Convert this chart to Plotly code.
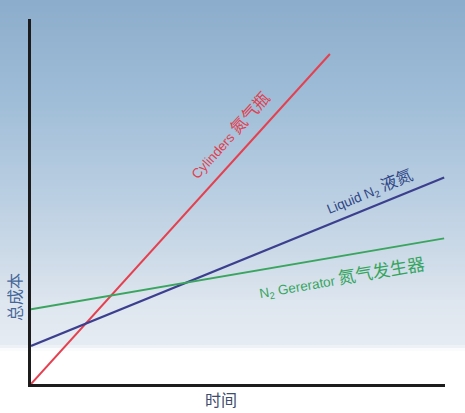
import plotly.graph_objects as go

# time axis 0..100, total cost 0..100 (no ticks shown)
time_pts = [0, 100]
cylinders_x = [0, 72.2]
cylinders_y = [0, 90.4]
liquid_x = [0, 99.8]
liquid_y = [10.4, 56.6]
generator_x = [0, 99.8]
generator_y = [20.5, 39.9]

W, H = 465, 413
ML, MR, MT, MB = 31, 20, 19, 29
PW, PH = W - ML - MR, H - MT - MB


def px_x(x):
    return (x - ML) / PW


def px_y(y):
    return (H - MB - y) / PH


fig = go.Figure()

fig.add_trace(go.Scatter(x=cylinders_x, y=cylinders_y, mode='lines',
                         line=dict(color='#e5404f', width=2)))
fig.add_trace(go.Scatter(x=liquid_x, y=liquid_y, mode='lines',
                         line=dict(color='#3b3f8e', width=2.2)))
fig.add_trace(go.Scatter(x=generator_x, y=generator_y, mode='lines',
                         line=dict(color='#3aa55e', width=2)))

# sky background built from thin strips
stops = [(0, (140, 173, 204)), (100, (160, 190, 216)), (200, (188, 208, 227)),
         (260, (207, 220, 233)), (300, (222, 230, 239)), (343, (230, 236, 243)),
         (349, (255, 255, 255)), (413, (255, 255, 255))]
shapes = []
step = 3
for y in range(0, H, step):
    for (a, ca), (b, cb) in zip(stops[:-1], stops[1:]):
        if a <= y < b:
            t = (y - a) / (b - a)
            c = tuple(int(ca[i] + (cb[i] - ca[i]) * t) for i in range(3))
            break
    shapes.append(dict(type='rect', xref='paper', yref='paper', layer='below',
                       x0=px_x(0), x1=px_x(W), y0=px_y(y + step + 0.5), y1=px_y(y),
                       fillcolor='rgb(%d,%d,%d)' % c, line=dict(width=0)))

fnt = "Arial, 'Liberation Sans', 'Noto Sans CJK SC'"
annotations = [
    dict(x=px_x(230), y=px_y(135), text='Cylinders <span style="font-size:16.5px">氮气瓶</span>',
         textangle=-47.9, font=dict(color='#e0404f', size=13.5)),
    dict(x=px_x(370), y=px_y(192), text='Liquid N<sub>2</sub> <span style="font-size:16.5px">液氮</span>',
         textangle=-22.3, font=dict(color='#2f4686', size=13.5)),
    dict(x=px_x(342), y=px_y(278), text='N<sub>2</sub> Gererator <span style="font-size:17.5px">氮气发生器</span>',
         textangle=-9.8, font=dict(color='#35a55e', size=13.5)),
    dict(x=px_x(15), y=px_y(297), text='总成本', textangle=-90,
         font=dict(color='#46679a', size=16)),
    dict(x=px_x(221), y=px_y(400), text='时间',
         font=dict(color='#3c4d6e', size=16)),
]
for a in annotations:
    a.update(xref='paper', yref='paper', showarrow=False,
             xanchor='center', yanchor='middle')
    a['font']['family'] = fnt

fig.update_layout(
    width=W, height=H,
    margin=dict(l=ML, r=MR, t=MT, b=MB),
    paper_bgcolor='white', plot_bgcolor='rgba(0,0,0,0)',
    showlegend=False,
    shapes=shapes,
    annotations=annotations,
    xaxis=dict(range=[time_pts[0], time_pts[1]], showgrid=False, zeroline=False,
               showticklabels=False, showline=True, linecolor='#1c1c1c', linewidth=2.5),
    yaxis=dict(range=[0, 100], showgrid=False, zeroline=False,
               showticklabels=False, showline=True, linecolor='#1c1c1c', linewidth=2.5),
)

# drop the default page margin so the figure sits at the window corner
fig.write_html("out.html", config={'displayModeBar': False},
               post_script="document.body.style.margin='0';")
